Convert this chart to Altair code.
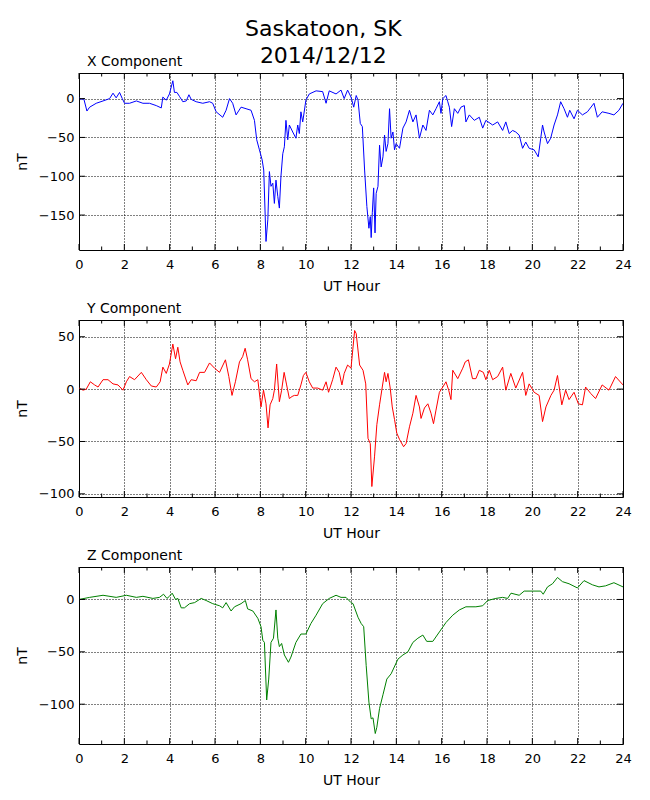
import altair as alt
import pandas as pd

# ---------------- data ----------------
x_hours = [0.00, 0.10, 0.21, 0.35, 0.47, 0.76, 1.06, 1.35, 1.50, 1.64, 1.79, 1.91, 2.01, 2.23, 2.53, 2.82,
           3.11, 3.41, 3.63, 3.70, 3.85, 3.99, 4.14, 4.21, 4.32, 4.43, 4.58, 4.73, 4.85, 4.95, 5.17, 5.46,
           5.76, 5.90, 6.05, 6.34, 6.49, 6.64, 6.78, 6.93, 7.15, 7.37, 7.59, 7.74, 7.84, 7.96, 8.08, 8.15,
           8.25, 8.33, 8.40, 8.47, 8.55, 8.62, 8.69, 8.77, 8.84, 8.91, 8.99, 9.06, 9.13, 9.21, 9.28, 9.43,
           9.57, 9.65, 9.72, 9.79, 9.87, 10.01, 10.16, 10.46, 10.75, 10.90, 11.04, 11.34, 11.56, 11.70,
           11.85, 12.00, 12.12, 12.23, 12.31, 12.41, 12.50, 12.60, 12.70, 12.79, 12.85, 12.89, 12.94, 13.00,
           13.06, 13.11, 13.19, 13.26, 13.33, 13.41, 13.48, 13.55, 13.63, 13.70, 13.77, 13.85, 13.92, 13.99,
           14.14, 14.29, 14.43, 14.58, 14.73, 14.87, 15.02, 15.17, 15.31, 15.46, 15.61, 15.75, 15.90, 15.97,
           16.05, 16.19, 16.27, 16.34, 16.44, 16.56, 16.71, 16.85, 17.00, 17.07, 17.22, 17.44, 17.66, 17.81,
           17.95, 18.25, 18.47, 18.69, 18.83, 18.98, 19.13, 19.27, 19.42, 19.57, 19.71, 19.86, 20.08, 20.26,
           20.37, 20.45, 20.52, 20.67, 20.81, 20.96, 21.11, 21.25, 21.40, 21.55, 21.65, 21.84, 21.99, 22.21,
           22.43, 22.72, 22.87, 23.08, 23.38, 23.60, 23.82, 24.00]
x_values = [1, -1, 0, -16, -11, -6, -3, 0, 7, 1, 8, 0, -6, -6, -3, -6,
            -6, -9, -12, 2, -2, 6, 23, 8, 8, 3, -4, -3, 5, -1, -4, -6,
            -4, -6, -17, -24, -15, 0, -6, -21, -11, -13, -15, -28, -53, -66, -79, -92,
            -184, -156, -94, -113, -109, -135, -105, -126, -141, -100, -71, -62, -28, -53, -34, -43,
            -51, -34, -45, -17, -30, -2, 6, 10, 9, -6, 10, 6, 11, 0,
            11, 2, -11, 4, -2, -32, -36, -92, -139, -167, -152, -179, -147, -115,
            -173, -122, -113, -60, -88, -75, -47, -68, -58, -13, -51, -43, -66, -58,
            -64, -38, -30, -15, -30, -21, -51, -34, -41, -15, -21, -13, -4, -19,
            0, 4, -4, -11, -36, -13, -19, -11, -9, -30, -21, -28, -24, -38,
            -28, -34, -30, -41, -30, -45, -41, -43, -47, -64, -56, -64, -66, -75,
            -51, -34, -43, -58, -51, -34, -21, -4, -13, -24, -15, -26, -15, -21,
            -17, -6, -24, -17, -19, -21, -15, -6]

y_hours = [0.00, 0.18, 0.32, 0.50, 0.69, 0.84, 1.06, 1.28, 1.50, 1.72, 1.94, 2.09, 2.23, 2.45, 2.75, 2.97,
           3.19, 3.41, 3.58, 3.70, 3.85, 3.99, 4.14, 4.26, 4.36, 4.46, 4.58, 4.80, 4.95, 5.17, 5.32, 5.54,
           5.76, 5.98, 6.20, 6.46, 6.61, 6.75, 6.90, 7.08, 7.22, 7.33, 7.44, 7.59, 7.74, 7.89, 8.03, 8.14,
           8.25, 8.34, 8.43, 8.55, 8.62, 8.72, 8.84, 8.94, 9.05, 9.16, 9.28, 9.40, 9.50, 9.65, 9.79, 9.90,
           10.01, 10.16, 10.31, 10.53, 10.75, 10.90, 11.01, 11.19, 11.34, 11.48, 11.60, 11.70, 11.85, 12.00,
           12.16, 12.23, 12.38, 12.53, 12.65, 12.75, 12.85, 12.92, 13.04, 13.14, 13.26, 13.38, 13.48, 13.55,
           13.63, 13.73, 13.82, 13.92, 14.02, 14.14, 14.32, 14.43, 14.58, 14.73, 14.87, 15.02, 15.09, 15.24,
           15.39, 15.53, 15.64, 15.75, 15.90, 16.05, 16.19, 16.31, 16.41, 16.49, 16.71, 16.93, 17.04, 17.18,
           17.36, 17.51, 17.66, 17.84, 17.95, 18.10, 18.25, 18.47, 18.69, 18.83, 19.05, 19.27, 19.57, 19.71,
           19.86, 20.08, 20.30, 20.45, 20.60, 20.82, 20.96, 21.11, 21.30, 21.47, 21.62, 21.84, 22.03, 22.21,
           22.35, 22.57, 22.79, 23.08, 23.38, 23.67, 24.00]
y_values = [1, -1, 0, 7, 4, 2, 9, 9, 5, 4, -1, 7, 12, 9, 16, 9,
            3, 2, 7, 21, 15, 24, 43, 29, 40, 26, 18, 4, 9, 8, 16, 16,
            25, 20, 16, 28, 12, -6, 7, 26, 31, 39, 28, 10, 7, 9, -17, -1,
            -14, -37, -15, -9, -1, 24, -12, -1, 16, 4, -9, -7, -6, -6, 4, 13,
            16, 7, 1, 1, -1, 7, -3, 9, 21, 16, 4, 15, 23, 20,
            56, 53, 23, 18, 5, -47, -52, -93, -64, -34, -15, 2, 16, 7,
            15, 1, -17, -29, -42, -48, -55, -52, -36, -23, -6, -17, -28, -18,
            -14, -23, -33, -20, -3, 2, 7, -1, -10, 18, 10, 20, 26, 28,
            10, 10, 18, 16, 9, 18, 9, 12, 21, -1, 15, 1, 16, -6,
            5, -3, -6, -31, -17, -6, -1, 13, -15, -1, -10, -3, -14, -15,
            2, -4, -9, 4, -1, 12, 4]

z_hours = [0.00, 0.47, 1.06, 1.64, 2.09, 2.53, 2.82, 3.26, 3.55, 3.73, 3.88, 3.99, 4.11, 4.26, 4.36, 4.51,
           4.65, 4.88, 5.10, 5.39, 5.61, 5.90, 6.20, 6.34, 6.49, 6.71, 6.86, 7.15, 7.34, 7.44, 7.67, 7.89,
           8.03, 8.11, 8.18, 8.28, 8.37, 8.47, 8.58, 8.69, 8.77, 8.84, 8.94, 9.06, 9.24, 9.35, 9.57, 9.79,
           10.01, 10.23, 10.46, 10.75, 11.04, 11.34, 11.56, 11.78, 12.00, 12.09, 12.31, 12.45, 12.56, 12.67,
           12.79, 12.89, 12.97, 13.07, 13.14, 13.26, 13.41, 13.58, 13.77, 14.07, 14.29, 14.51, 14.73, 14.95,
           15.17, 15.34, 15.61, 15.90, 16.19, 16.49, 16.78, 17.07, 17.51, 17.81, 18.03, 18.39, 18.69, 18.91,
           19.06, 19.42, 19.64, 20.01, 20.37, 20.48, 20.67, 20.89, 21.11, 21.33, 21.62, 21.99, 22.28, 22.65,
           22.94, 23.23, 23.60, 24.00]
z_values = [0, 2, 4, 2, 4, 2, 3, 1, 2, 5, 1, 3, 6, 0, 1, -8,
            -8, -4, -3, 1, -1, -4, -6, -8, -3, -11, -7, -4, -1, -9, -11, -18,
            -26, -39, -41, -96, -76, -41, -37, -10, -37, -45, -42, -53, -60, -55, -41, -33,
            -33, -23, -15, -4, 1, 4, 2, 2, -3, -4, -17, -23, -26, -63,
            -98, -114, -113, -128, -122, -104, -91, -76, -71, -57, -53, -50, -41, -37,
            -34, -40, -40, -31, -22, -15, -10, -7, -7, -6, -1, 1, 2, 1,
            6, 4, 8, 8, 8, 5, 12, 15, 21, 17, 15, 11, 18, 14,
            12, 13, 16, 12]

hour_major = [0, 2, 4, 6, 8, 10, 12, 14, 16, 18, 20, 22, 24]
hour_minor = [1, 3, 5, 7, 9, 11, 13, 15, 17, 19, 21, 23]

panel_titles = ["X Component", "Y Component", "Z Component"]
panel_colors = ["#0000ff", "#ff0000", "#008000"]
panel_domains = [[-195, 33], [-103, 66], [-138, 31]]
panel_yticks = [[0, -50, -100, -150], [50, 0, -50, -100], [0, -50, -100]]
main_title = ["Saskatoon, SK", "2014/12/12"]

# ---------------- chart ----------------
W, H = 544, 177
FONT = "DejaVu Sans"
MAJ, MIN = 6, 3.5


def panel(title, hours, values, color, ydomain, yticks):
    df = pd.DataFrame({"hour": hours, "nT": values})
    xs = alt.Scale(domain=[0, 24], nice=False, zero=False)
    ys = alt.Scale(domain=ydomain, nice=False, zero=False)
    xaxis = alt.Axis(values=hour_major, title="UT Hour", format="d", labelFlush=False)
    yaxis = alt.Axis(values=yticks, title="nT", format="d", labelFlush=False)

    line = alt.Chart(df).mark_line(color=color, strokeWidth=1, clip=True).encode(
        x=alt.X("hour:Q", scale=xs, axis=xaxis),
        y=alt.Y("nT:Q", scale=ys, axis=yaxis),
    )
    maj = pd.DataFrame({"hour": hour_major})
    mnr = pd.DataFrame({"hour": hour_minor})
    yt = pd.DataFrame({"nT": yticks})
    xenc = alt.X("hour:Q", scale=xs, axis=xaxis)
    yenc = alt.Y("nT:Q", scale=ys, axis=yaxis)
    rule = dict(color="black", strokeWidth=1)
    layers = [
        line,
        alt.Chart(maj).mark_rule(**rule).encode(x=xenc, y=alt.value(H), y2=alt.value(H - MAJ)),
        alt.Chart(maj).mark_rule(**rule).encode(x=xenc, y=alt.value(0), y2=alt.value(MAJ)),
        alt.Chart(mnr).mark_rule(**rule).encode(x=xenc, y=alt.value(H), y2=alt.value(H - MIN)),
        alt.Chart(mnr).mark_rule(**rule).encode(x=xenc, y=alt.value(0), y2=alt.value(MIN)),
        alt.Chart(yt).mark_rule(**rule).encode(y=yenc, x=alt.value(0), x2=alt.value(MAJ)),
        alt.Chart(yt).mark_rule(**rule).encode(y=yenc, x=alt.value(W), x2=alt.value(W - MAJ)),
    ]
    return alt.layer(*layers).properties(
        width=W,
        height=H,
        title=alt.TitleParams(
            text=title, anchor="start", frame="group", dx=8, offset=4,
            fontSize=14, font=FONT, fontWeight="normal", color="black",
        ),
    )


panels = [
    panel(panel_titles[0], x_hours, x_values, panel_colors[0], panel_domains[0], panel_yticks[0]),
    panel(panel_titles[1], y_hours, y_values, panel_colors[1], panel_domains[1], panel_yticks[1]),
    panel(panel_titles[2], z_hours, z_values, panel_colors[2], panel_domains[2], panel_yticks[2]),
]

chart = alt.vconcat(*panels, spacing=70, bounds="flush").properties(
    title=alt.TitleParams(
        text=main_title, anchor="middle", fontSize=22, lineHeight=27.5,
        font=FONT, fontWeight="normal", color="black", offset=-14, dx=0,
    ),
    padding={"left": 6, "right": 5, "top": 9, "bottom": 0},
).configure(
    background="white"
).configure_view(
    stroke="black", strokeWidth=1
).configure_axis(
    domain=False, ticks=False, tickSize=0, grid=True, gridColor="black",
    gridDash=[1, 2], gridWidth=1, gridOpacity=1,
    labelFont=FONT, labelFontSize=13, labelColor="black",
    titleFont=FONT, titleFontSize=14, titleFontWeight="normal", titleColor="black",
).configure_axisX(
    labelPadding=8, titlePadding=8,
).configure_axisY(
    labelPadding=5, titlePadding=9,
)

chart.save("out.html", embed_options={"renderer": "svg", "actions": False})
